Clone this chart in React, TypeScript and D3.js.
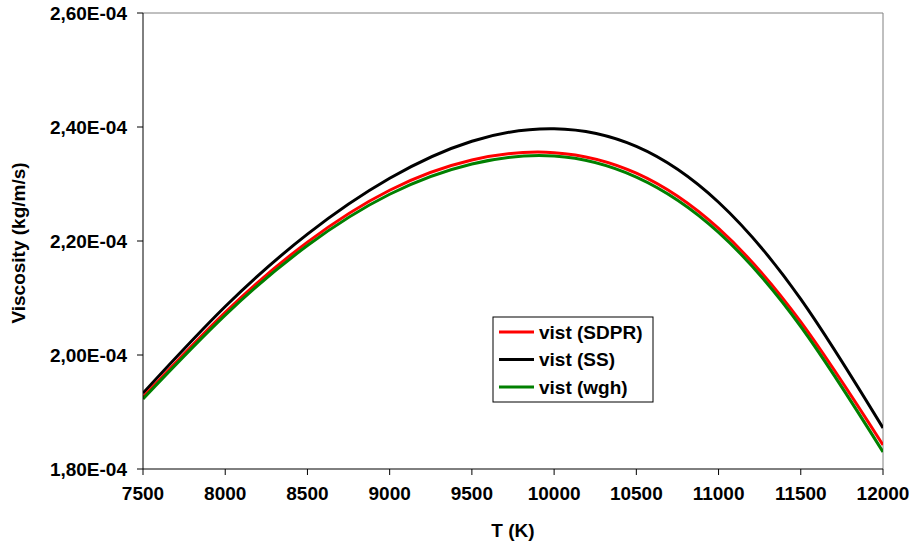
import React from "react";
import * as d3 from "d3";

const temps = [7500, 8000, 8500, 9000, 9500, 10000, 10500, 11000, 11500, 12000];
const vistSDPR = [1.926, 2.075, 2.198, 2.289, 2.342, 2.355, 2.319, 2.222, 2.058, 1.842];
const vistSS = [1.933, 2.085, 2.212, 2.31, 2.375, 2.397, 2.366, 2.268, 2.098, 1.872];
const vistWgh = [1.923, 2.07, 2.192, 2.282, 2.335, 2.349, 2.312, 2.215, 2.05, 1.83];
const seriesNames = ["vist (SDPR)", "vist (SS)", "vist (wgh)"];
const seriesColors = ["#ff0000", "#000000", "#008000"];
const xTicks = [7500, 8000, 8500, 9000, 9500, 10000, 10500, 11000, 11500, 12000];
const yTicks = [1.8, 2.0, 2.2, 2.4, 2.6];
const yTickLabels = ["1,80E-04", "2,00E-04", "2,20E-04", "2,40E-04", "2,60E-04"];

export default function App() {
  const W = 917, H = 547;
  const left = 143, right = 883, top = 13, bottom = 469;
  const x = d3.scaleLinear().domain([7500, 12000]).range([left, right]);
  const y = d3.scaleLinear().domain([1.8, 2.6]).range([bottom, top]);
  const font = "'Liberation Sans', Arial, Helvetica, sans-serif";
  const series = [vistSDPR, vistSS, vistWgh];
  const line = d3
    .line<number>()
    .x((_, i) => x(temps[i]))
    .y((d) => y(d))
    .curve(d3.curveNatural);
  const drawOrder = [1, 0, 2];
  const lx = 493, ly = 317, lw = 160, lh = 85;
  return (
    <svg width={W} height={H} style={{ position: "absolute", left: 0, top: 0 }} fontFamily={font}>
      <rect x={0} y={0} width={W} height={H} fill="#fff" />
      <defs>
        <clipPath id="pa">
          <rect x={left} y={top} width={right - left} height={bottom - top} />
        </clipPath>
      </defs>
      <line x1={left} x2={right} y1={top} y2={top} stroke="#808080" strokeWidth={1} />
      <line x1={right} x2={right} y1={top} y2={bottom} stroke="#808080" strokeWidth={1} />
      <g clipPath="url(#pa)">
        {drawOrder.map((k) => (
          <path key={k} d={line(series[k]) || ""} fill="none" stroke={seriesColors[k]} strokeWidth={3} />
        ))}
      </g>
      <line x1={left} x2={left} y1={top} y2={bottom} stroke="#000" strokeWidth={1} />
      <line x1={left} x2={right} y1={bottom} y2={bottom} stroke="#000" strokeWidth={1} />
      {yTicks.map((t, i) => (
        <g key={t}>
          <line x1={left - 6} x2={left} y1={y(t)} y2={y(t)} stroke="#000" />
          <text x={127} y={y(t)} dy="0.35em" textAnchor="end" fontSize={19} fontWeight="bold">
            {yTickLabels[i]}
          </text>
        </g>
      ))}
      {xTicks.map((t) => (
        <g key={t}>
          <line x1={x(t)} x2={x(t)} y1={bottom} y2={bottom + 6} stroke="#000" />
          <text x={x(t)} y={500} textAnchor="middle" fontSize={19} fontWeight="bold">
            {t}
          </text>
        </g>
      ))}
      <text x={(left + right) / 2} y={537} textAnchor="middle" fontSize={19} fontWeight="bold">
        T (K)
      </text>
      <text
        transform={`translate(25,${243}) rotate(-90)`}
        textAnchor="middle"
        fontSize={19}
        fontWeight="bold"
      >
        Viscosity (kg/m/s)
      </text>
      <rect x={lx} y={ly} width={lw} height={lh} fill="#fff" stroke="#000" strokeWidth={1} />
      {seriesNames.map((n, i) => (
        <g key={n}>
          <line x1={499} x2={534} y1={332 + i * 27.5} y2={332 + i * 27.5} stroke={seriesColors[i]} strokeWidth={3} />
          <text x={539} y={332 + i * 27.5} dy="0.36em" fontSize={19} fontWeight="bold">
            {n}
          </text>
        </g>
      ))}
    </svg>
  );
}
